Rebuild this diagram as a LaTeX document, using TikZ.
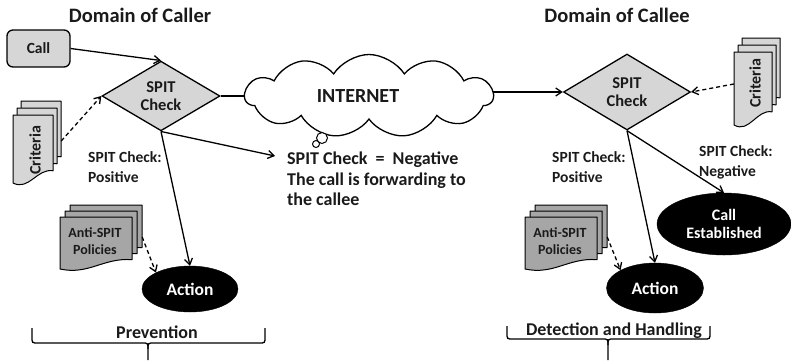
\documentclass[tikz,border=0pt]{standalone}
\usepackage{fontspec}
\setmainfont{Carlito}
\usetikzlibrary{shapes.geometric,shapes.symbols,arrows.meta,backgrounds}
\definecolor{lightfill}{HTML}{D6D6D6}
\definecolor{midfill}{HTML}{A6A6A6}
\definecolor{txt}{HTML}{1A1A1A}
% document shape: fill, x0, y0, w, h (y downwards)
\newcommand\docshape[5]{%
  \filldraw[fill=#1, line width=1pt, line join=round]
    ({#2},{#3}) -- ({#2+#4},{#3}) -- ({#2+#4},{#3+0.82*#5})
    .. controls ({#2+0.6*#4},{#3+0.78*#5}) and ({#2+0.4*#4},{#3+1.12*#5}) .. ({#2},{#3+#5}) -- cycle;}
% stack of three documents: fill, x0, y0, w, h, dx, dy
\newcommand\multidoc[7]{%
  \docshape{#1}{#2+2*#6}{#3-2*#7}{#4}{#5}
  \docshape{#1}{#2+#6}{#3-#7}{#4}{#5}
  \docshape{#1}{#2}{#3}{#4}{#5}}
\begin{document}
\begin{tikzpicture}[x=1pt,y=-1pt,
  every node/.style={text=txt},
  fs/.style 2 args={font=\bfseries\fontsize{#1}{#2}\selectfont},
  conn/.style={line width=1.3pt, -{Straight Barb[length=6pt,width=8pt]}},
  dconn/.style={conn, dash pattern=on 4pt off 3pt},
  chk/.style={diamond, draw, line width=1.3pt, fill=lightfill, inner sep=0pt, align=center, fs={16.5}{18}},
  oval/.style={ellipse, draw, fill=black, text=white, inner sep=0pt, align=center},
  ghost/.style={inner sep=0pt, draw=none},
  title/.style={fs={20.5}{22}, anchor=base},
  lbl/.style={fs={15.5}{20}, align=left, anchor=north west, inner sep=0pt},
  doctext/.style={fs={14}{16.5}, align=center, inner sep=0pt},
  bracetext/.style={fs={18}{20}, anchor=base},
  bubble/.style={circle, draw, line width=1pt, fill=white, inner sep=0pt}
]
\useasboundingbox (0,0) rectangle (791,360);

% titles
\node[title] (t1) at (140,22) {Domain of Caller};
\node[title] (t2) at (617,22) {Domain of Callee};

% caller side
\node[draw, line width=1.3pt, fill=lightfill, rounded corners=6pt, minimum width=63, minimum height=37, fs={15.5}{17}] (call) at (38.5,48.5) {Call};
\node[chk, minimum width=118, minimum height=68] (chk1) at (161,96) {SPIT\\Check};

\multidoc{lightfill}{13}{115}{40}{68}{4}{7}
\node[ghost, minimum width=48, minimum height=83] (critL) at (37,141) {};
\node[fs={16}{17}, rotate=90] (critLtxt) at (35,150) {Criteria};

\multidoc{midfill}{60}{217}{72}{52}{5}{6}
\node[ghost, minimum width=82, minimum height=64] (polL) at (101,237) {};
\node[doctext] (polLtxt) at (95,241) {Anti-SPIT\\Policies};

\node[oval, minimum width=96, minimum height=46, fs={17.5}{19}] (act1) at (190,289) {Action};

% internet
\node[cloud, cloud puffs=11, cloud puff arc=115, aspect=3, draw, line width=1.3pt, fill=white, minimum width=248, minimum height=83, inner sep=0pt] (cloud) at (369,96) {};
\node[fs={20}{22}, anchor=base] (inet) at (358,102) {INTERNET};
\node[bubble, minimum size=11] (b1) at (322,138) {};
\node[bubble, minimum size=7] (b2) at (316,144) {};
\node[fs={18}{20.5}, align=left, anchor=north west, inner sep=0pt] (neg) at (287,152) {SPIT Check\ \ =\ \ Negative\\The call is forwarding to\\the callee};

% callee side
\node[chk, minimum width=127, minimum height=76] (chk2) at (627,92) {SPIT\\Check};
\multidoc{lightfill}{734}{52}{38}{73}{4}{7}
\node[ghost, minimum width=46, minimum height=87] (critR) at (757,84) {};
\node[fs={16}{17}, rotate=90] (critRtxt) at (755,83) {Criteria};

\multidoc{midfill}{525}{217}{72}{52}{5}{6}
\node[ghost, minimum width=82, minimum height=64] (polR) at (566,237) {};
\node[doctext] (polRtxt) at (560,241) {Anti-SPIT\\Policies};

\node[oval, minimum width=97, minimum height=50, fs={17.5}{19}] (act2) at (655,288) {Action};
\node[oval, minimum width=134, minimum height=62, fs={16}{18.5}] (ce) at (724,224) {Call\\Established};

% labels
\node[lbl] (pos1) at (88,151) {SPIT Check:\\Positive};
\node[lbl] (pos2) at (552,151) {SPIT Check:\\Positive};
\node[lbl] (neg2) at (699,145) {SPIT Check:\\Negative};

% connectors
\draw[conn] (call.east) -- (chk1.north);
\draw[dconn] (critL.east) -- (chk1.west);
\draw[conn] (chk1.south) -- ([shift={(-12,4)}]neg.north west);
\draw[conn] (chk1.south) -- (act1.north);
\draw[dconn] (polL.east) -- (act1.north west);
\draw[dconn] (critR.west) -- (chk2.east);
\draw[conn] (chk2.south) -- (act2.north);
\draw[conn] (chk2.south) -- (ce.north);
\draw[dconn] (polR.east) -- (act2.north west);
\begin{scope}[on background layer]
\draw[line width=1.3pt] (chk1.east) -- (cloud.center |- chk1.east);
\draw[conn] (cloud.center |- chk2.west) -- (chk2.west);
\end{scope}

% braces
\node[bracetext] (prev) at (157,338) {Prevention};
\draw[line width=1.3pt] (32,328) -- (32,337) .. controls (32,343) .. (38,343) -- (142,343) .. controls (148,343) .. (148,349) -- (148,360);
\draw[line width=1.3pt] (148,349) .. controls (148,343) .. (154,343) -- (259,343) .. controls (265,343) .. (265,337) -- (265,328);
\node[bracetext] (det) at (614,335) {Detection and Handling};
\draw[line width=1.3pt] (507,326) -- (507,333) .. controls (507,339) .. (513,339) -- (602,339) .. controls (608,339) .. (608,345) -- (608,360);
\draw[line width=1.3pt] (608,345) .. controls (608,339) .. (614,339) -- (704,339) .. controls (710,339) .. (710,333) -- (710,326);
\end{tikzpicture}
\end{document}
